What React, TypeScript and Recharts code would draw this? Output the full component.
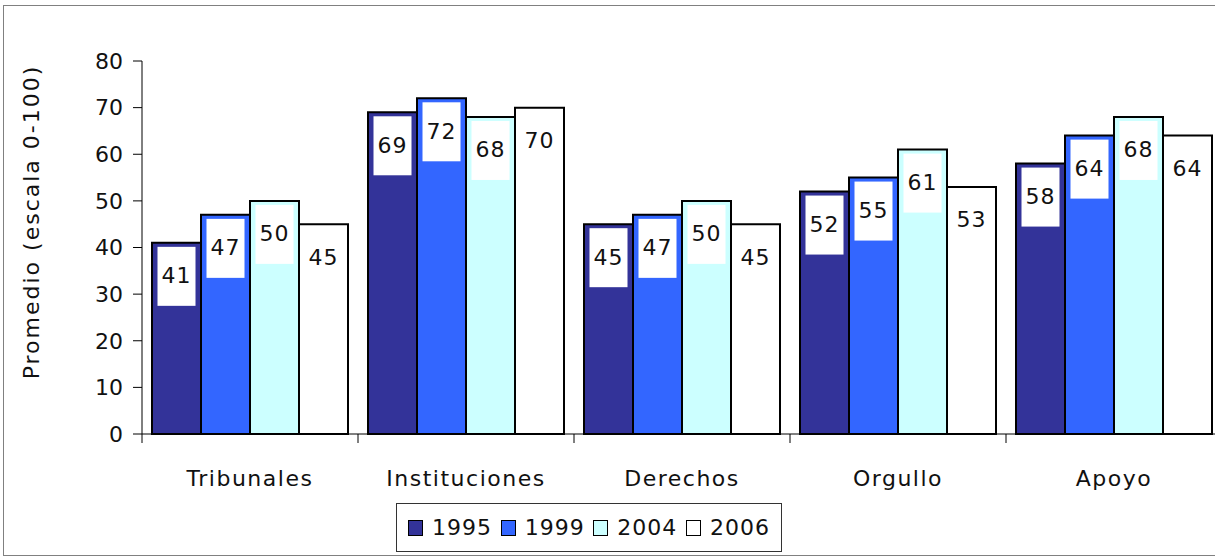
import React from "react";
import { BarChart, Bar, XAxis, YAxis, LabelList } from "recharts";

// chart data
const categories = ["Tribunales", "Instituciones", "Derechos", "Orgullo", "Apoyo"];
const years = ["1995", "1999", "2004", "2006"];
const values1995 = [41, 69, 45, 52, 58];
const values1999 = [47, 72, 47, 55, 64];
const values2004 = [50, 68, 50, 61, 68];
const values2006 = [45, 70, 45, 53, 64];
const yTicks = [0, 10, 20, 30, 40, 50, 60, 70, 80];
const yLabel = "Promedio (escala 0-100)";

const seriesValues = [values1995, values1999, values2004, values2006];
const seriesColors = ["#333399", "#3366FF", "#CCFFFF", "#FFFFFF"];

const FONT = "'DejaVu Sans', Verdana, sans-serif";

const data = categories.map((name, i) => {
  const row: Record<string, string | number> = { name };
  years.forEach((y, s) => {
    row[y] = seriesValues[s][i];
  });
  return row;
});

// category label plus Excel style tick marks on the band edges
function CategoryTick(props: any) {
  const { x, y, payload, index, visibleTicksCount } = props;
  const half = payload?.offset ?? 108;
  const last = index === (visibleTicksCount ?? categories.length) - 1;
  return (
    <g>
      <line x1={x - half} x2={x - half} y1={y} y2={y + 9} stroke="#000" />
      {last && <line x1={x + half} x2={x + half} y1={y} y2={y + 9} stroke="#000" />}
      <text
        x={x}
        y={y + 44}
        textAnchor="middle"
        dominantBaseline="central"
        fill="#111"
        fontSize={22}
        fontFamily={FONT}
        letterSpacing={1.5}
      >
        {payload.value}
      </text>
    </g>
  );
}

function YTitle() {
  return (
    <text
      x={31}
      y={222}
      transform="rotate(-90 31 222)"
      textAnchor="middle"
      dominantBaseline="central"
      fill="#111"
      fontSize={22}
      fontFamily={FONT}
      letterSpacing={2}
    >
      {yLabel}
    </text>
  );
}

// white box with the value, sitting just under the top of each bar
function ValueLabel(props: any) {
  const { x, y, width, value } = props;
  const cx = x + width / 2;
  return (
    <g>
      <rect x={cx - 19} y={y + 4} width={38} height={59} fill="#fff" />
      <text
        x={cx}
        y={y + 33}
        textAnchor="middle"
        dominantBaseline="central"
        fill="#111"
        fontSize={22}
        fontFamily={FONT}
        letterSpacing={1}
      >
        {value}
      </text>
    </g>
  );
}

function LegendBox() {
  return (
    <div
      style={{
        position: "absolute",
        left: 396,
        top: 503,
        width: 386,
        height: 49,
        boxSizing: "border-box",
        border: "1px solid #333",
        display: "flex",
        alignItems: "center",
        justifyContent: "space-between",
        padding: "0 11px",
        fontFamily: FONT,
        fontSize: 22,
        letterSpacing: 1,
        color: "#111",
        background: "#fff",
      }}
    >
      {years.map((y, s) => (
        <div key={y} style={{ display: "flex", alignItems: "center" }}>
          <span
            style={{
              display: "inline-block",
              width: 13,
              height: 14,
              border: "1.5px solid #000",
              background: seriesColors[s],
              marginRight: 9,
            }}
          />
          <span>{y}</span>
        </div>
      ))}
    </div>
  );
}

export default function App() {
  return (
    <div
      style={{
        position: "fixed",
        left: 0,
        top: 0,
        width: 1215,
        height: 557,
        overflow: "hidden",
        background: "#fff",
      }}
    >
      <div
        style={{
          position: "absolute",
          left: 3,
          top: 5,
          width: 1260,
          height: 551,
          boxSizing: "border-box",
          border: "1px solid #808080",
        }}
      />
      <div style={{ position: "absolute", left: 0, top: 0 }}>
        <BarChart
          width={1232}
          height={557}
          data={data}
          margin={{ top: 61, right: 10, left: 0, bottom: 0 }}
          barCategoryGap={10}
          barGap={0}
        >
          <XAxis
            dataKey="name"
            height={123}
            axisLine={{ stroke: "#000" }}
            tickLine={false}
            tickSize={0}
            tickMargin={0}
            interval={0}
            tick={<CategoryTick />}
          />
          <YAxis
            width={142}
            domain={[0, 80]}
            ticks={yTicks}
            interval={0}
            axisLine={{ stroke: "#000" }}
            tickLine={{ stroke: "#000" }}
            tickSize={9}
            tickMargin={10}
            tick={{ fill: "#111", fontSize: 22, fontFamily: FONT }}
            label={<YTitle />}
          />
          {years.map((y, s) => (
            <Bar
              key={y}
              dataKey={y}
              fill={seriesColors[s]}
              stroke="#000"
              strokeWidth={2}
              isAnimationActive={false}
            >
              <LabelList dataKey={y} content={<ValueLabel />} />
            </Bar>
          ))}
        </BarChart>
      </div>
      <LegendBox />
    </div>
  );
}
